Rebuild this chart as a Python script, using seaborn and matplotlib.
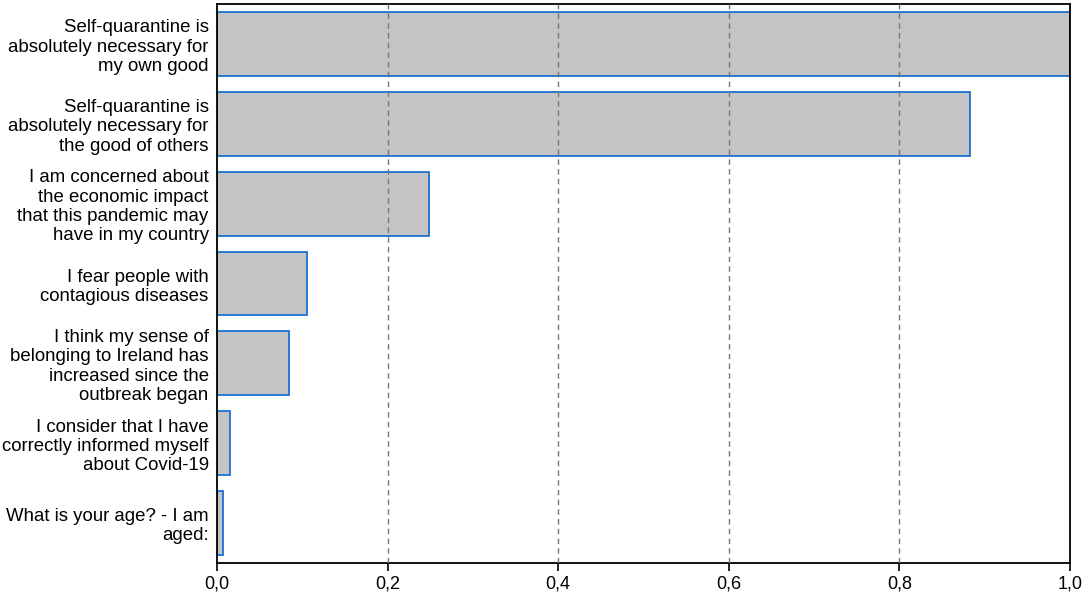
import pandas as pd
import numpy as np
import seaborn as sns
import matplotlib.pyplot as plt
from matplotlib.ticker import FuncFormatter

# Data
labels = ['Self-quarantine is\nabsolutely necessary for\nmy own good',
          'Self-quarantine is\nabsolutely necessary for\nthe good of others',
          'I am concerned about\nthe economic impact\nthat this pandemic may\nhave in my country',
          'I fear people with\ncontagious diseases',
          'I think my sense of\nbelonging to Ireland has\nincreased since the\noutbreak began',
          'I consider that I have\ncorrectly informed myself\nabout Covid-19',
          'What is your age? - I am\naged:']
importance = [1.0, 0.883, 0.248, 0.105, 0.084, 0.015, 0.007]
xticks = [0.0, 0.2, 0.4, 0.6, 0.8, 1.0]

df = pd.DataFrame({'label': labels, 'importance': importance})

sns.set_style('white')
plt.rcParams['font.family'] = ['Liberation Sans', 'DejaVu Sans']

fig = plt.figure(figsize=(10.84, 5.98), dpi=100)
ax = fig.add_axes([0.2002, 0.0585, 0.7869, 0.9348])

sns.barplot(data=df, x='importance', y='label', orient='h', color='#c4c4c4',
            edgecolor='#1c6fd4', linewidth=1.3, width=0.8, saturation=1, ax=ax)

# dashed grid drawn over the bars
for xv in xticks[1:-1]:
    ax.axvline(xv, color='#777777', linestyle=(0, (4, 3)), linewidth=1, zorder=5)

ax.set_xlim(0, 1.0)
ax.set_ylim(6.5, -0.5)
ax.set_xticks(xticks)
ax.xaxis.set_major_formatter(FuncFormatter(lambda v, p: f'{v:.1f}'.replace('.', ',')))
ax.tick_params(axis='x', direction='out', length=6, width=1.2, color='black',
               labelsize=13, labelcolor='black', bottom=True, pad=3)
ax.tick_params(axis='y', length=0, labelsize=13.4, labelcolor='black', pad=6)
for lbl in ax.get_yticklabels() + ax.get_xticklabels():
    lbl.set_fontfamily(['Liberation Sans', 'DejaVu Sans'])
for lbl in ax.get_yticklabels():
    lbl.set_linespacing(1.17)
ax.set_xlabel('')
ax.set_ylabel('')
for s in ax.spines.values():
    s.set_color('black')
    s.set_linewidth(1.3)

fig.savefig('out.png', dpi=100)
